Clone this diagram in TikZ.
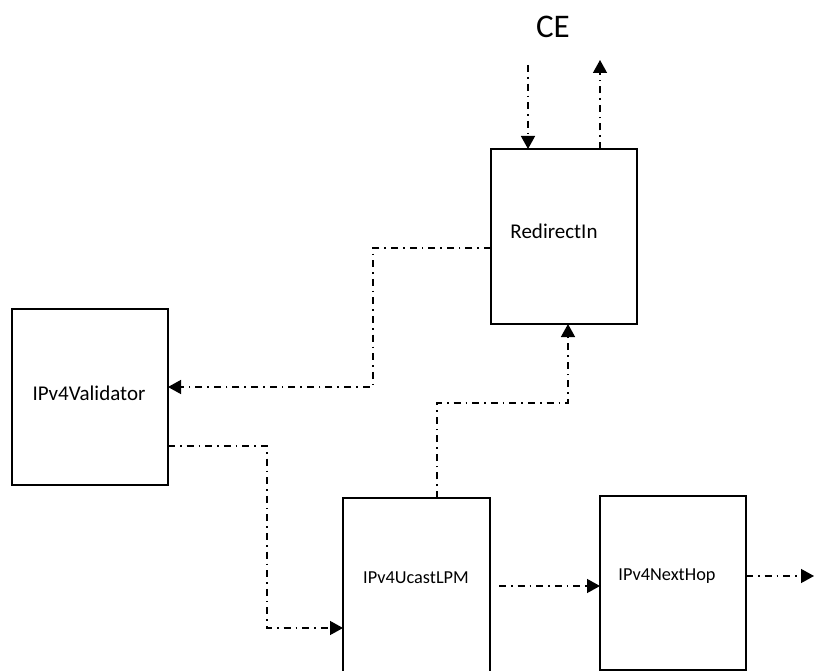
\documentclass[tikz,border=0pt]{standalone}
\usepackage{fontspec}
\setmainfont{Carlito}
\usetikzlibrary{arrows.meta}
\begin{document}
\begin{tikzpicture}[x=1pt,y=-1pt,
  block/.style={draw,line width=1.7pt,inner sep=0pt,outer sep=0pt,minimum width=146pt},
  flow/.style={line width=1.4pt,dash pattern=on 7pt off 5pt on 1.6pt off 5pt},
  tip/.style={-{Triangle[length=13pt,width=14pt]}},
  biglbl/.style={inner sep=0pt,font=\fontsize{21}{25}\selectfont},
  smalllbl/.style={inner sep=0pt,font=\fontsize{18.3}{22}\selectfont}]
\useasboundingbox (0,0) rectangle (814,671);
\clip (0,0) rectangle (814,671);

% blocks
\node[block,minimum height=175pt] (redirect) at (564,236.5) {};
\node[block,minimum width=156pt,minimum height=176pt] (validator) at (90,397) {};
\node[block,minimum width=147pt,minimum height=204pt] (lpm) at (416.5,600) {};
\node[block,minimum height=174pt] (nexthop) at (673,583) {};

% block names
\node[font=\fontsize{33}{40}\selectfont,inner sep=0pt] (ce) at (553,27) {CE};
\node[biglbl] (redirectlbl) at (554,231) {RedirectIn};
\node[biglbl] (validatorlbl) at (89,393) {IPv4Validator};
\node[smalllbl] (lpmlbl) at (416,578) {IPv4UcastLPM};
\node[smalllbl] (nexthoplbl) at (667,576) {IPv4NextHop};

% bend points and free ends
\coordinate (ceIn) at (528,65);
\coordinate (ceOut) at (600,60);
\coordinate (r0) at (373,248);
\coordinate (r1) at (373,387);
\coordinate (v0) at (267,446);
\coordinate (v1) at (267,628);
\coordinate (u0) at (437,403);
\coordinate (u1) at (568,403);
\coordinate (h0) at (499,586);
\coordinate (n0) at (746,576);
\coordinate (nOut) at (814,576);

% connectors
\draw[flow,tip] (ceIn) -- (ceIn |- redirect.north);
\draw[flow,tip] (ceOut |- redirect.north) -- (ceOut);
\draw[flow,tip] (redirect.west |- r0) -- (r0) -- (r1) -- (validator.east |- r1);
\draw[flow,tip] (validator.east |- v0) -- (v0) -- (v1) -- (lpm.west |- v1);
\draw[flow,tip] (lpm.north -| u0) -- (u0) -- (u1) -- (u1 |- redirect.south);
\draw[flow,tip] (h0) -- (nexthop.west |- h0);
\draw[flow,tip] (n0) -- (nOut);
\end{tikzpicture}
\end{document}
